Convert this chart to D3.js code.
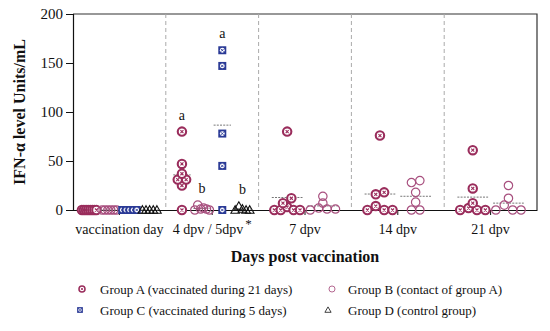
<!DOCTYPE html>
<html>
  <head>
    <meta charset="utf-8">
    <script src="https://d3js.org/d3.v7.min.js"></script>
    <style>
      body { margin: 0px; background: #fff; }
      text { font-family: 'Liberation Serif', 'Times New Roman', serif; fill: #111; }
      .axis-label { font-size: 16px; font-weight: bold; }
      .legend text { font-size: 13px; }
    </style>
  </head>
  <body>
    <svg width="550" height="331"></svg>
    <script>

      const days = ['vaccination day', '4 dpv / 5dpv', '7 dpv', '14 dpv', '21 dpv'];
      const groupKeys = ['A', 'B', 'C', 'D'];
      const groupLabels = [
        'Group A (vaccinated during 21 days)',
        'Group B (contact of group A)',
        'Group C (vaccinated during 5 days)',
        'Group D (control group)'
      ];
      // values per day, null = group not sampled that day
      const valuesA = [[0, 0, 0, 0, 0, 0, 0, 0], [0, 25, 31, 31, 37, 47, 80], [0, 0, 3, 0, 0, 7, 12, 80], [0, 4, 0, 0, 16, 18, 76], [0, 2, 0, 0, 7, 22, 61]];
      const valuesB = [[0, 0, 0, 0, 0, 0], [0, 5, 1, 2, 1, 0], [0, 2, 1, 1, 7, 14], [0, 28, 18, 8, 30, 0], [0, 5, 0, 0, 12, 25]];
      const valuesC = [[0, 0, 0, 0, 0], [0, 45, 78, 147, 163], null, null, null];
      const valuesD = [[0, 0, 0, 0, 0], [0, 4, 1, 0, 0], null, null, null];
      const letters = [
        { day: 1, group: 'A', text: 'a' },
        { day: 1, group: 'B', text: 'b' },
        { day: 1, group: 'C', text: 'a' },
        { day: 1, group: 'D', text: 'b' }
      ];
      const yTickValues = [0, 50, 100, 150, 200];

      const colors = { A: '#9a2d5c', B: '#a8507f', C: '#2a3a96', D: '#111' };
      const groupValues = { A: valuesA, B: valuesB, C: valuesC, D: valuesD };

      const margin = { left: 73, right: 13, top: 14, bottom: 121 };
      const svg = d3.select('svg');
      const width = +svg.attr('width');
      const height = +svg.attr('height');
      const innerWidth = width - margin.left - margin.right;
      const innerHeight = height - margin.top - margin.bottom;

      const g = svg.append('g')
          .attr('transform', `translate(${margin.left},${margin.top})`);

      const xScale = d3.scaleBand().domain(days).range([0, innerWidth]);
      const yScale = d3.scaleLinear().domain([0, 200]).range([innerHeight, 0]);

      // frame (top + right)
      g.append('path')
          .attr('d', `M0,0H${innerWidth}V${innerHeight}`)
          .attr('fill', 'none')
          .attr('stroke', '#333')
          .attr('stroke-width', 1.2);

      // dashed separators between days
      g.selectAll('.sep').data(days.slice(1))
        .enter().append('line')
          .attr('x1', d => xScale(d)).attr('x2', d => xScale(d))
          .attr('y1', 0).attr('y2', innerHeight)
          .attr('stroke', '#aaa')
          .attr('stroke-dasharray', '4,3');

      const yAxisG = g.append('g').call(d3.axisLeft(yScale)
          .tickValues(yTickValues).tickSize(7).tickPadding(3));
      const xAxisG = g.append('g')
          .attr('transform', `translate(0,${innerHeight})`)
          .call(d3.axisBottom(xScale).tickSizeInner(5).tickSizeOuter(0).tickPadding(9));
      yAxisG.attr('font-family', null).attr('font-size', 15);
      xAxisG.attr('font-family', null).attr('font-size', 14);
      g.selectAll('.domain').attr('stroke', '#111').attr('stroke-width', 1.2);
      g.selectAll('.tick line').attr('stroke', '#111');

      xAxisG.selectAll('.tick text')
        .filter(d => d === days[1])
          .append('tspan')
          .attr('dx', 2)
          .attr('dy', -6)
          .attr('font-size', 13)
          .text('*');

      g.append('text')
          .attr('class', 'axis-label')
          .attr('x', innerWidth / 2)
          .attr('y', 248)
          .attr('text-anchor', 'middle')
          .text('Days post vaccination');

      g.append('text')
          .attr('class', 'axis-label')
          .attr('transform', 'rotate(-90)')
          .attr('x', -98)
          .attr('y', -48)
          .attr('text-anchor', 'middle')
          .text('IFN-α level Units/mL');

      // marker painters
      const r = 4.2;
      function drawMarker(sel, key, s) {
        const c = colors[key];
        if (key === 'A') {
          sel.append('circle').attr('r', r * s).attr('fill', '#fff')
              .attr('stroke', c).attr('stroke-width', 2.1 * s);
          sel.append('path').attr('d', `M${-1.5 * s},${-1.5 * s}L${1.5 * s},${1.5 * s}M${-1.5 * s},${1.5 * s}L${1.5 * s},${-1.5 * s}`)
              .attr('stroke', c).attr('stroke-width', 1.1 * s);
        } else if (key === 'B') {
          sel.append('circle').attr('r', r * s).attr('fill', 'none')
              .attr('stroke', c).attr('stroke-width', 1.2 * s);
        } else if (key === 'C') {
          sel.append('rect').attr('x', -4 * s).attr('y', -4 * s)
              .attr('width', 8 * s).attr('height', 8 * s).attr('fill', c);
          sel.append('circle').attr('r', 2.4 * s).attr('fill', '#fff');
          sel.append('path').attr('d', `M${-1.3 * s},${-1.3 * s}L${1.3 * s},${1.3 * s}M${-1.3 * s},${1.3 * s}L${1.3 * s},${-1.3 * s}`)
              .attr('stroke', c).attr('stroke-width', 0.9 * s);
        } else {
          sel.append('path').attr('d', `M0,${-4.3 * s}L${4.3 * s},${3.2 * s}L${-4.3 * s},${3.2 * s}Z`)
              .attr('fill', 'none').attr('stroke', c).attr('stroke-width', 1.1 * s);
        }
      }

      // beeswarm-ish layout: values close together share a row, centred on the group slot
      function swarm(vals, step) {
        const idx = vals.map((v, i) => i).sort((a, b) => vals[a] - vals[b] || a - b);
        const rows = [];
        idx.forEach(i => {
          const row = rows[rows.length - 1];
          if (row && vals[i] - vals[row[0]] <= 5) row.push(i);
          else rows.push([i]);
        });
        const off = new Array(vals.length).fill(0);
        const maxHalf = 0.36 * step;
        rows.forEach(row => {
          row.sort((a, b) => a - b);
          let gap = 2 * r;
          const half = (row.length - 1) / 2 * gap;
          if (half > maxHalf) gap = maxHalf * 2 / (row.length - 1);
          row.forEach((i, k) => { off[i] = (k - (row.length - 1) / 2) * gap; });
        });
        return off;
      }

      days.forEach((day, di) => {
        const present = groupKeys.filter(k => groupValues[k][di]);
        const sub = d3.scaleBand().domain(present)
          .range([xScale(day), xScale(day) + xScale.bandwidth()])
          .paddingOuter(0.3).paddingInner(0);
        const step = sub.step();
        present.forEach(k => {
          const vals = groupValues[k][di];
          const cx = sub(k) + sub.bandwidth() / 2;
          const mean = d3.mean(vals);
          g.append('line')
              .attr('x1', cx - 0.43 * step).attr('x2', cx + 0.43 * step)
              .attr('y1', yScale(mean)).attr('y2', yScale(mean))
              .attr('stroke', '#777').attr('stroke-dasharray', '2,1.2');
          const off = swarm(vals, step);
          g.selectAll(null).data(vals)
            .enter().append('g')
              .attr('transform', (d, i) => `translate(${cx + off[i]},${yScale(d)})`)
              .each(function () { drawMarker(d3.select(this), k, 1); });
          letters.filter(l => l.day === di && l.group === k).forEach(l => {
            g.append('text')
                .attr('x', cx)
                .attr('y', yScale(d3.max(vals)) - 12)
                .attr('text-anchor', 'middle')
                .attr('font-size', 14)
                .text(l.text);
          });
        });
      });

      // legend
      const legend = svg.append('g').attr('class', 'legend');
      const legendPos = [[82, 100, 289], [332, 348, 289], [80, 100, 310], [328, 348, 310]];
      groupKeys.forEach((k, i) => {
        const [mx, tx, y] = legendPos[i];
        const m = legend.append('g').attr('transform', `translate(${mx},${y})`);
        drawMarker(m, k, 0.72);
        legend.append('text').attr('x', tx).attr('y', y + 4.5).text(groupLabels[i]);
      });
    </script>
  </body>
</html>
